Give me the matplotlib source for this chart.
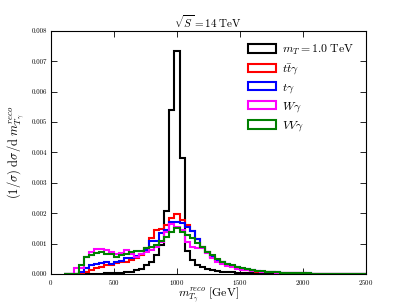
import numpy as np
import matplotlib
matplotlib.use("Agg")
import matplotlib.pyplot as plt
from matplotlib.ticker import FormatStrFormatter

plt.rcParams['font.family'] = ['cmr10', 'DejaVu Serif']
plt.rcParams['mathtext.fontset'] = 'cm'
plt.rcParams['axes.formatter.use_mathtext'] = True

# bin edges: 100..2500 GeV, 40 GeV wide
bin_lo = 100
bin_hi = 2500
n_bins = 60

# values in units of 1e-3
signal = [0, 0, 0, 0, 0.005, 0.01, 0.01, 0.015, 0.02, 0.02,
          0.03, 0.03, 0.05, 0.06, 0.12, 0.18, 0.28, 0.4, 0.62, 0.95,
          2.08, 5.4, 7.33, 3.83, 0.77, 0.45, 0.3, 0.22, 0.16, 0.12,
          0.1, 0.08, 0.07, 0.05, 0.04, 0.03, 0.025, 0.02, 0.015, 0.012,
          0.01, 0.01, 0.008, 0.006, 0.005, 0.005, 0.004, 0.003, 0.003, 0.002,
          0.002, 0.002, 0.001, 0.001, 0.001, 0.001, 0.001, 0, 0, 0]
ttgamma = [0, 0, 0, 0.03, 0.08, 0.13, 0.21, 0.24, 0.3, 0.3,
           0.35, 0.4, 0.4, 0.46, 0.51, 0.62, 0.84, 1.17, 1.45, 1.48,
           1.61, 1.83, 1.96, 1.78, 1.6, 1.4, 1.15, 0.9, 0.72, 0.55,
           0.45, 0.38, 0.3, 0.25, 0.2, 0.16, 0.13, 0.1, 0.08, 0.07,
           0.06, 0.05, 0.04, 0.035, 0.03, 0.025, 0.02, 0.02, 0.015, 0.015,
           0.01, 0.01, 0.01, 0.008, 0.008, 0.006, 0.005, 0.005, 0.004, 0.004]
tgamma = [0, 0, 0, 0.05, 0.2, 0.3, 0.32, 0.35, 0.4, 0.32,
          0.41, 0.44, 0.51, 0.53, 0.59, 0.65, 0.79, 1.1, 1.1, 1.34,
          1.45, 1.7, 1.72, 1.67, 1.55, 1.42, 1.15, 0.88, 0.72, 0.55,
          0.45, 0.38, 0.32, 0.26, 0.22, 0.18, 0.15, 0.12, 0.1, 0.08,
          0.07, 0.06, 0.05, 0.04, 0.035, 0.03, 0.025, 0.02, 0.02, 0.015,
          0.015, 0.01, 0.01, 0.01, 0.008, 0.008, 0.006, 0.006, 0.005, 0.005]
wgamma = [0, 0, 0.2, 0.21, 0.56, 0.73, 0.81, 0.81, 0.79, 0.71,
          0.65, 0.68, 0.79, 0.65, 0.57, 0.65, 0.73, 0.79, 0.9, 1.04,
          1.39, 1.64, 1.55, 1.45, 1.05, 0.9, 0.84, 0.84, 0.68, 0.52,
          0.4, 0.32, 0.26, 0.22, 0.18, 0.14, 0.12, 0.1, 0.09, 0.07,
          0.06, 0.05, 0.04, 0.035, 0.03, 0.025, 0.02, 0.02, 0.015, 0.015,
          0.01, 0.01, 0.01, 0.01, 0.012, 0.015, 0.012, 0.008, 0.006, 0.005]
vvgamma = [0, 0, 0, 0.3, 0.56, 0.62, 0.68, 0.71, 0.65, 0.65,
           0.57, 0.62, 0.65, 0.71, 0.75, 0.75, 0.84, 0.9, 0.95, 1.08,
           1.23, 1.39, 1.5, 1.38, 1.28, 1.2, 1.03, 0.9, 0.73, 0.62,
           0.48, 0.4, 0.34, 0.28, 0.24, 0.2, 0.16, 0.13, 0.1, 0.09,
           0.07, 0.06, 0.05, 0.04, 0.035, 0.03, 0.025, 0.02, 0.018, 0.015,
           0.012, 0.01, 0.01, 0.008, 0.008, 0.006, 0.005, 0.005, 0.004, 0.004]

labels = [r'$m_T = 1.0\ \mathrm{TeV}$', r'$t\bar{t}\gamma$', r'$t\gamma$',
          r'$W\gamma$', r'$VV\gamma$']
colors = ['black', 'red', 'blue', 'magenta', 'green']
x_ticks = [0, 500, 1000, 1500, 2000, 2500]
y_ticks = [0.000, 0.001, 0.002, 0.003, 0.004, 0.005, 0.006, 0.007, 0.008]

edges = np.linspace(bin_lo, bin_hi, n_bins + 1)
centers = 0.5 * (edges[:-1] + edges[1:])

fig = plt.figure(figsize=(4.07, 3.05), dpi=100)
ax = fig.add_axes([51 / 407, 31 / 305, 315 / 407, 243.3 / 305])

series = [signal, ttgamma, tgamma, wgamma, vvgamma]
for vals, col, lab in zip(series, colors, labels):
    ax.hist(centers, bins=edges, weights=np.array(vals) * 1e-3,
            histtype='step', color=col, lw=1.5, label=lab)

ax.set_xlim(0, 2500)
ax.set_ylim(0, 0.008)
ax.set_xticks(x_ticks)
ax.set_yticks(y_ticks)
ax.yaxis.set_major_formatter(FormatStrFormatter('%.3f'))
ax.tick_params(direction='in', top=True, right=True, length=4, width=0.6,
               labelsize=5, pad=3)
for s in ax.spines.values():
    s.set_linewidth(0.8)

ax.set_title(r'$\sqrt{S} = 14\ \mathrm{TeV}$', fontsize=8, pad=2)
ax.set_ylabel(r'$(1/\sigma)\ \mathrm{d}\sigma/\mathrm{d}\ m_{T_\gamma}^{reco}$',
              fontsize=9, labelpad=3)
ax.set_xlabel(r'$m_{T_\gamma}^{reco}\ [\mathrm{GeV}]$', fontsize=8.5,
              labelpad=-1)

ax.legend(loc='upper right', frameon=False, fontsize=8.5, handlelength=2.3,
          handleheight=0.7, labelspacing=0.45, handletextpad=0.55,
          borderaxespad=0.6)

fig.savefig('out.png', dpi=100)
